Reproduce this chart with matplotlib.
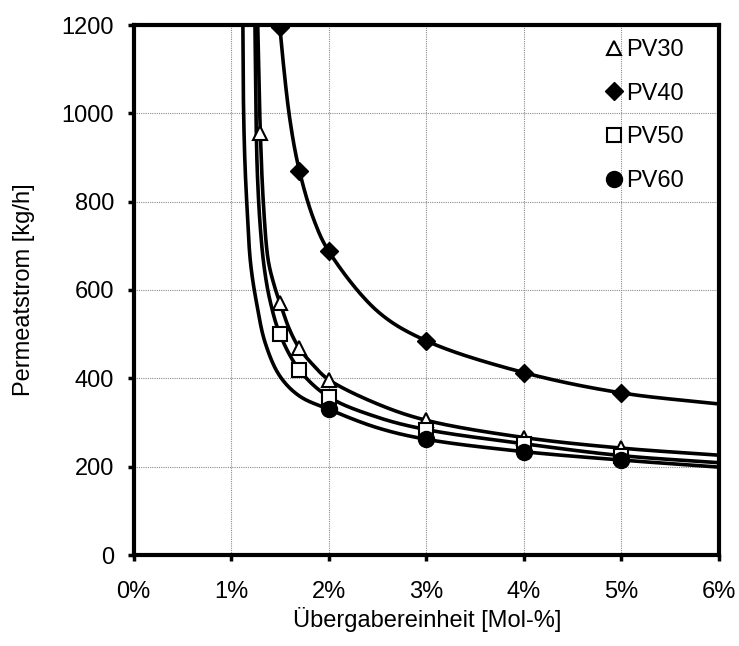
import numpy as np
import matplotlib
matplotlib.use("Agg")
import matplotlib.pyplot as plt

plt.rcParams["font.family"] = ["Liberation Sans", "DejaVu Sans"]

# measured points (x in mol-%, permeate flow in kg/h)
pv30_x = [1.3, 1.5, 1.7, 2.0, 3.0, 4.0, 5.0]
pv30_y = [955, 571, 468, 397, 305, 266, 242]
pv40_x = [1.5, 1.7, 2.0, 3.0, 4.0, 5.0]
pv40_y = [1195, 870, 688, 485, 413, 367]
pv50_x = [1.5, 1.7, 2.0, 3.0, 4.0, 5.0]
pv50_y = [500, 419, 358, 284, 252, 225]
pv60_x = [2.0, 3.0, 4.0, 5.0]
pv60_y = [330, 262, 234, 215]

# trend curves
trend30_x = [1.27, 1.285, 1.3, 1.33, 1.38, 1.44, 1.5, 1.6, 1.7, 1.85, 2.0, 2.5, 3.0, 4.0, 5.0, 6.0]
trend30_y = [1230, 1080, 955, 800, 668, 612, 571, 510, 468, 428, 397, 342, 305, 266, 242, 226]
trend40_x = [1.488, 1.5, 1.6, 1.7, 1.85, 2.0, 2.5, 3.0, 4.0, 5.0, 6.0]
trend40_y = [1230, 1195, 990, 870, 758, 688, 552, 485, 413, 367, 342]
trend50_x = [1.243, 1.255, 1.27, 1.30, 1.34, 1.40, 1.5, 1.7, 2.0, 2.5, 3.0, 4.0, 5.0, 6.0]
trend50_y = [1230, 1000, 860, 740, 650, 575, 500, 419, 358, 312, 284, 252, 225, 209]
trend60_x = [1.12, 1.125, 1.14, 1.165, 1.20, 1.26, 1.35, 1.5, 1.7, 2.0, 2.5, 3.0, 4.0, 5.0, 6.0]
trend60_y = [1230, 1050, 900, 780, 660, 572, 480, 405, 360, 330, 288, 262, 234, 215, 199]

x_ticks = [0, 1, 2, 3, 4, 5, 6]
y_ticks = [0, 200, 400, 600, 800, 1000, 1200]


def smooth_curve(xs, ys, sx=97.6, sy=0.4417, n=40):
    """Centripetal Catmull-Rom spline through the given points."""
    P = np.column_stack([np.asarray(xs) * sx, np.asarray(ys) * sy])
    P = np.vstack([2 * P[0] - P[1], P, 2 * P[-1] - P[-2]])
    out = []
    for i in range(1, len(P) - 2):
        p0, p1, p2, p3 = P[i - 1], P[i], P[i + 1], P[i + 2]
        t0 = 0.0
        t1 = t0 + np.linalg.norm(p1 - p0) ** 0.5
        t2 = t1 + np.linalg.norm(p2 - p1) ** 0.5
        t3 = t2 + np.linalg.norm(p3 - p2) ** 0.5
        t = np.linspace(t1, t2, n)[:, None]
        a1 = (t1 - t) / (t1 - t0) * p0 + (t - t0) / (t1 - t0) * p1
        a2 = (t2 - t) / (t2 - t1) * p1 + (t - t1) / (t2 - t1) * p2
        a3 = (t3 - t) / (t3 - t2) * p2 + (t - t2) / (t3 - t2) * p3
        b1 = (t2 - t) / (t2 - t0) * a1 + (t - t0) / (t2 - t0) * a2
        b2 = (t3 - t) / (t3 - t1) * a2 + (t - t1) / (t3 - t1) * a3
        c = (t2 - t) / (t2 - t1) * b1 + (t - t1) / (t2 - t1) * b2
        out.append(c if i == 1 else c[1:])
    C = np.vstack(out)
    return C[:, 0] / sx, C[:, 1] / sy


FS = 17

fig = plt.figure(figsize=(7.39, 6.46), dpi=100)
ax = fig.add_axes([133.5 / 739, 91 / 646, 585.5 / 739, 530 / 646])

ax.set_xlim(0, 6)
ax.set_ylim(0, 1200)
ax.set_xticks(x_ticks)
ax.set_yticks(y_ticks)
ax.set_xticklabels([f"{v}%" for v in x_ticks])
ax.set_yticklabels([str(v) for v in y_ticks])
ax.grid(True, color="#8c8c8c", linestyle=(0, (1, 1)), linewidth=0.8)
ax.set_axisbelow(True)

for s in ax.spines.values():
    s.set_linewidth(3)
ax.tick_params(axis="both", direction="out", length=4, width=2.5, labelsize=FS)
ax.tick_params(axis="x", pad=15)
ax.tick_params(axis="y", pad=10)

for tx, ty in [(trend30_x, trend30_y), (trend40_x, trend40_y),
               (trend50_x, trend50_y), (trend60_x, trend60_y)]:
    cx, cy = smooth_curve(tx, ty)
    ax.plot(cx, cy, color="black", lw=2.6, solid_capstyle="butt", zorder=3)

ax.plot(pv30_x, pv30_y, linestyle="none", marker="^", ms=10.5, mfc="white",
        mec="black", mew=1.5, label="PV30", zorder=4)
ax.plot(pv40_x, pv40_y, linestyle="none", marker="D", ms=9.5, mfc="black",
        mec="black", label="PV40", zorder=4)
ax.plot(pv50_x, pv50_y, linestyle="none", marker="s", ms=9.5, mfc="white",
        mec="black", mew=1.5, label="PV50", zorder=4)
ax.plot(pv60_x, pv60_y, linestyle="none", marker="o", ms=11.5, mfc="black",
        mec="black", label="PV60", zorder=4)

ax.legend(loc="upper left", bbox_to_anchor=(606 / 739, 1 - 39 / 646),
          bbox_transform=fig.transFigure, frameon=False, fontsize=FS,
          handlelength=0.7, handletextpad=0.15, labelspacing=0.92,
          borderpad=0, borderaxespad=0)

fig.text(24 / 739, 1 - 290 / 646, "Permeatstrom [kg/h]", rotation=90,
         ha="center", va="center", fontsize=FS)
fig.text(427 / 739, 1 - 620 / 646, "Übergabereinheit [Mol-%]",
         ha="center", va="center", fontsize=FS)

fig.savefig("out.png", dpi=100)
